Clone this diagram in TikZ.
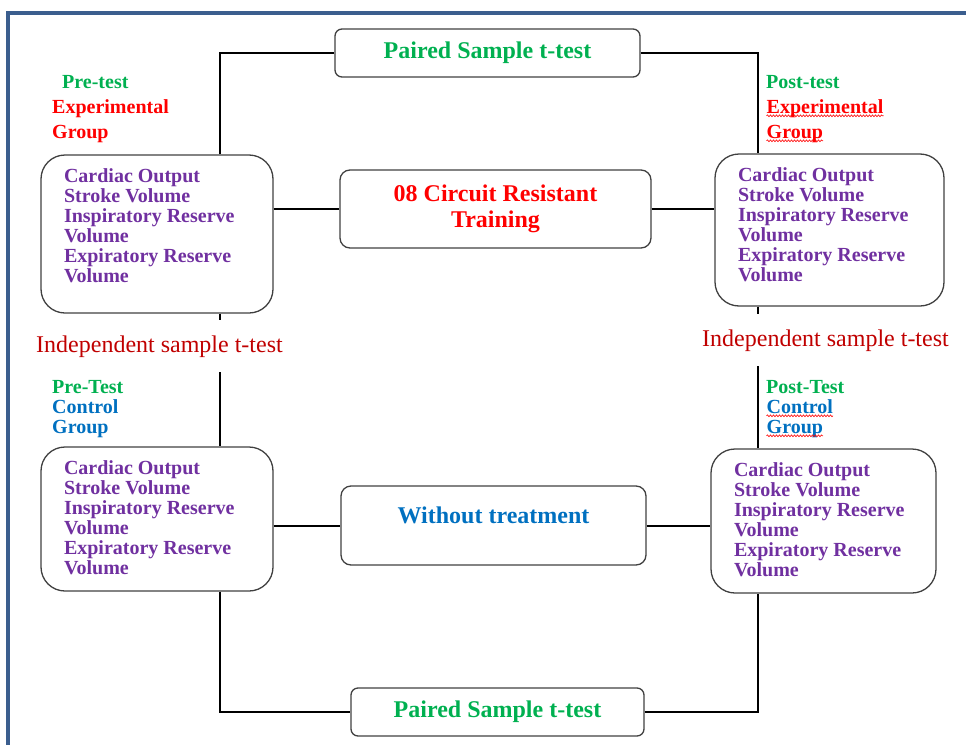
\documentclass[tikz,border=0pt]{standalone}
\usepackage{fontspec}
\setmainfont{Liberation Serif}
\usepackage{color}
\usetikzlibrary{decorations.pathmorphing}

\definecolor{frameblue}{RGB}{59,94,142}
\definecolor{testgreen}{RGB}{0,176,80}
\definecolor{measpurple}{RGB}{112,48,160}
\definecolor{ctlblue}{RGB}{0,112,192}
\definecolor{indred}{RGB}{192,0,0}

% spell-check squiggle under a word
\newcommand{\redwave}[1]{\tikz[baseline = (w.base)]{\node[inner sep = 0pt] (w) {#1};
   \draw[red, line width = 0.6pt, decorate, decoration = {snake, amplitude = 0.9pt, segment length = 3pt}]
      ([yshift = -2.5pt]w.base west) -- ([yshift = -2.5pt]w.base east);}}

\newcommand{\vitals}[2]{\parbox[t][#2][t]{#1}{\raggedright Cardiac Output\\Stroke Volume\\Inspiratory Reserve\\Volume\\Expiratory Reserve\\Volume}}

\begin{document}
\begin{tikzpicture}
      [x = 1pt, y = -1pt,
      frame/.style = {draw = frameblue, line width = 4pt},
      link/.style = {draw, line width = 2pt},
      measbox/.style = {
         draw = black!75,
         line width = 1.3pt,
         rounded corners = 24pt,
         inner xsep = 23pt,
         inner ysep = 14pt,
         text = measpurple,
         font = \fontsize{20}{20}\selectfont\bfseries
      },
      treatbox/.style = {
         draw = black!75,
         line width = 1.3pt,
         rounded corners = 10pt,
         inner sep = 0pt,
         align = center,
         font = \fontsize{24}{26}\selectfont\bfseries
      },
      pairbox/.style = {
         draw = black!75,
         line width = 1.3pt,
         rounded corners = 7pt,
         inner sep = 0pt,
         minimum height = 48pt,
         text = testgreen,
         font = \fontsize{24}{24}\selectfont\bfseries
      },
      lbl/.style = {
         anchor = north west,
         inner sep = 0pt,
         align = left,
         font = \fontsize{20}{#1}\selectfont\bfseries
      },
      testlbl/.style = {
         anchor = base west,
         inner xsep = 0pt,
         inner ysep = 15pt,
         text = indred,
         font = \fontsize{24}{24}\selectfont
      }]

      \useasboundingbox (0,0) rectangle (966,744);
      \draw[frame] (8,13) rectangle (1000,780);

      \node[measbox] (expPre) at (157,234) {\vitals{186pt}{130pt}};
      \node[measbox] (expPost) at (829.5,230) {\vitals{183pt}{124pt}};
      \node[measbox] (ctlPre) at (157,519) {\vitals{186pt}{116pt}};
      \node[measbox] (ctlPost) at (823.5,521) {\vitals{179pt}{116pt}};

      \node[pairbox, minimum width = 305pt] (pairTop) at (487.5,53) {Paired Sample t-test};
      \node[pairbox, minimum width = 293pt] (pairBot) at (497.5,712) {Paired Sample t-test};
      \node[treatbox, text = red, minimum width = 311pt, minimum height = 78pt] (training) at (495.5,209) {08 Circuit Resistant\\Training};
      \node[treatbox, text = ctlblue, minimum width = 305pt, minimum height = 79pt,
         text height = 16pt, text depth = 21pt] (untreated) at (493.5,525.5) {Without treatment};

      \node[lbl = 25] (expPreLbl) at (52,75) {\hspace*{10pt}\textcolor{testgreen}{Pre-test}\\\textcolor{red}{Experimental}\\\textcolor{red}{Group}};
      \node[lbl = 25] (expPostLbl) at (766,75) {\textcolor{testgreen}{Post-test}\\\redwave{\textcolor{red}{Experimental}}\\\redwave{\textcolor{red}{Group}}};
      \node[lbl = 20] (ctlPreLbl) at (52,380) {\textcolor{testgreen}{Pre-Test}\\\textcolor{ctlblue}{Control}\\\textcolor{ctlblue}{Group}};
      \node[lbl = 20] (ctlPostLbl) at (766,380) {\textcolor{testgreen}{Post-Test}\\\redwave{\textcolor{ctlblue}{Control}}\\\redwave{\textcolor{ctlblue}{Group}}};

      \node[testlbl] (indepL) at (36,352) {Independent sample t-test};
      \node[testlbl] (indepR) at (702,346) {Independent sample t-test};

      % spines on both sides
      \coordinate (lspine) at (220,0);
      \coordinate (rspine) at (758,0);

      \draw[link] (lspine |- expPre.north) |- (pairTop.west);
      \draw[link] (pairTop.east) -| (rspine |- expPost.north);
      \draw[link] (expPre.east |- training) -- (training.west);
      \draw[link] (training.east) -- (expPost.west |- training);
      \draw[link] (lspine |- expPre.south) -- (lspine |- indepL.north);
      \draw[link] (lspine |- indepL.south) -- (lspine |- ctlPre.north);
      \draw[link] (rspine |- expPost.south) -- (rspine |- indepR.north);
      \draw[link] (rspine |- indepR.south) -- (rspine |- ctlPost.north);
      \draw[link] (ctlPre.east |- untreated) -- (untreated.west);
      \draw[link] (untreated.east) -- (ctlPost.west |- untreated);
      \draw[link] (lspine |- ctlPre.south) |- (pairBot.west);
      \draw[link] (pairBot.east) -| (rspine |- ctlPost.south);

   \end{tikzpicture}
\end{document}
